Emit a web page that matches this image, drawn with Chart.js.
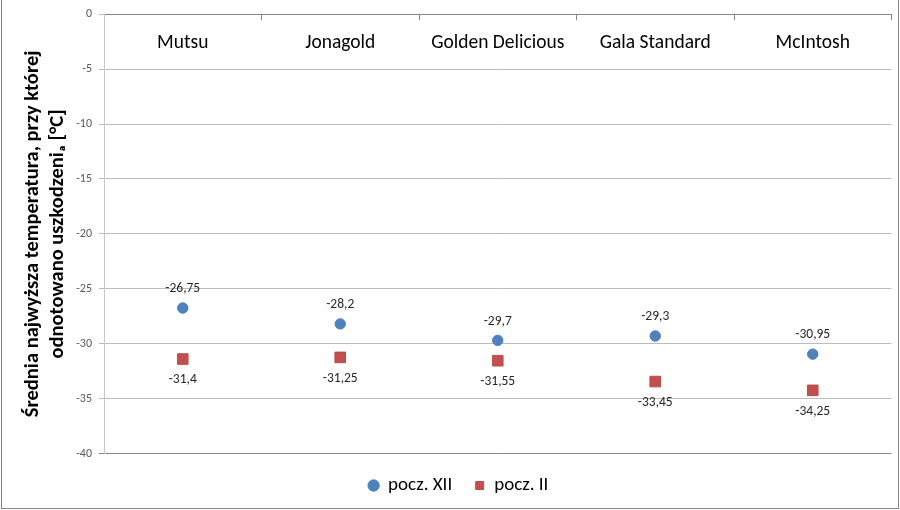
<!DOCTYPE html>
<html><head><meta charset="utf-8">
<script src="https://cdn.jsdelivr.net/npm/chart.js@4"></script>
<style>
html,body{margin:0;padding:0;background:#fff;overflow:hidden;}
#wrap{position:relative;width:900px;height:510px;}
#frame{position:absolute;left:1px;top:-1px;width:898px;height:510px;border:1px solid #868686;box-sizing:border-box;pointer-events:none;}
canvas{display:block;}
</style></head><body>
<div id="wrap"><canvas id="c" width="900" height="510"></canvas><div id="frame"></div></div>
<script>
const categories = ['Mutsu', 'Jonagold', 'Golden Delicious', 'Gala Standard', 'McIntosh'];
const seriesNames = ['pocz. XII', 'pocz. II'];
const valuesXII = [-26.75, -28.2, -29.7, -29.3, -30.95];
const valuesII = [-31.4, -31.25, -31.55, -33.45, -34.25];
const yMin = -40;
const yMax = 0;
const yStep = 5;
const yTitle = ['Średnia najwyższa temperatura, przy której', 'odnotowano uszkodzeniₐ [°C]'];

const FONT = "Carlito, Lato, 'Open Sans', sans-serif";

const fmt = v => String(v).replace('.', ',');

const dataLabels = {
  id: 'dataLabels',
  afterDatasetsDraw(chart) {
    const ctx = chart.ctx;
    ctx.save();
    ctx.font = "13.5px " + FONT;
    ctx.fillStyle = '#262626';
    ctx.textAlign = 'center';
    ctx.textBaseline = 'middle';
    chart.data.datasets.forEach((ds, di) => {
      const meta = chart.getDatasetMeta(di);
      meta.data.forEach((el, i) => {
        const dy = di === 0 ? -19 : 21;
        ctx.fillText(fmt(ds.data[i]), el.x, el.y + dy);
      });
    });
    ctx.restore();
  }
};

const legendShift = {
  id: 'legendShift',
  afterLayout(chart) {
    const lg = chart.legend;
    if (lg) { lg.left += 12; lg.right += 12; }
  }
};

new Chart(document.getElementById('c'), {
  type: 'line',
  data: {
    labels: categories,
    datasets: [
      {
        label: seriesNames[0], data: valuesXII, showLine: false,
        pointStyle: 'circle', pointRadius: 5.2, pointHoverRadius: 5.2,
        backgroundColor: '#4f81bd', borderColor: '#4a7ebb', pointBorderWidth: 1
      },
      {
        label: seriesNames[1], data: valuesII, showLine: false,
        pointStyle: 'rect', pointRadius: 7.5, pointHoverRadius: 7.5,
        backgroundColor: '#c0504d', borderColor: '#be4b48', pointBorderWidth: 1
      }
    ]
  },
  options: {
    responsive: false,
    animation: false,
    layout: { padding: { left: 0, right: 7, top: 13, bottom: 5 } },
    plugins: {
      tooltip: { enabled: false },
      legend: {
        position: 'bottom',
        labels: {
          usePointStyle: true, boxHeight: 8, boxWidth: 10, padding: 22.5,
          color: '#000', font: { family: FONT, size: 19 }
        }
      }
    },
    scales: {
      x: {
        position: 'top',
        offset: true,
        grid: { offset: true, drawOnChartArea: false, drawTicks: true, tickLength: -6, color: '#868686' },
        border: { color: '#868686' },
        ticks: { mirror: true, crossAlign: 'center', padding: 29, color: '#000', font: { family: FONT, size: 19.5 } },
        afterFit(s) { s.height = 0; }
      },
      y: {
        min: yMin, max: yMax,
        ticks: { stepSize: yStep, color: '#595959', padding: 7, font: { family: FONT, size: 12 } },
        grid: { color: c => (c.tick && c.tick.value === yMin ? '#868686' : '#bcbcbc'), tickLength: 5 },
        border: { color: '#c8c8c8' },
        title: {
          display: true, text: yTitle, color: '#000',
          padding: { top: 21, bottom: 0 },
          font: { family: FONT, size: 20.5, weight: 'bold' }
        },
        afterFit(s) { s.width = 104; }
      }
    }
  },
  plugins: [dataLabels, legendShift]
});
</script>
</body></html>
